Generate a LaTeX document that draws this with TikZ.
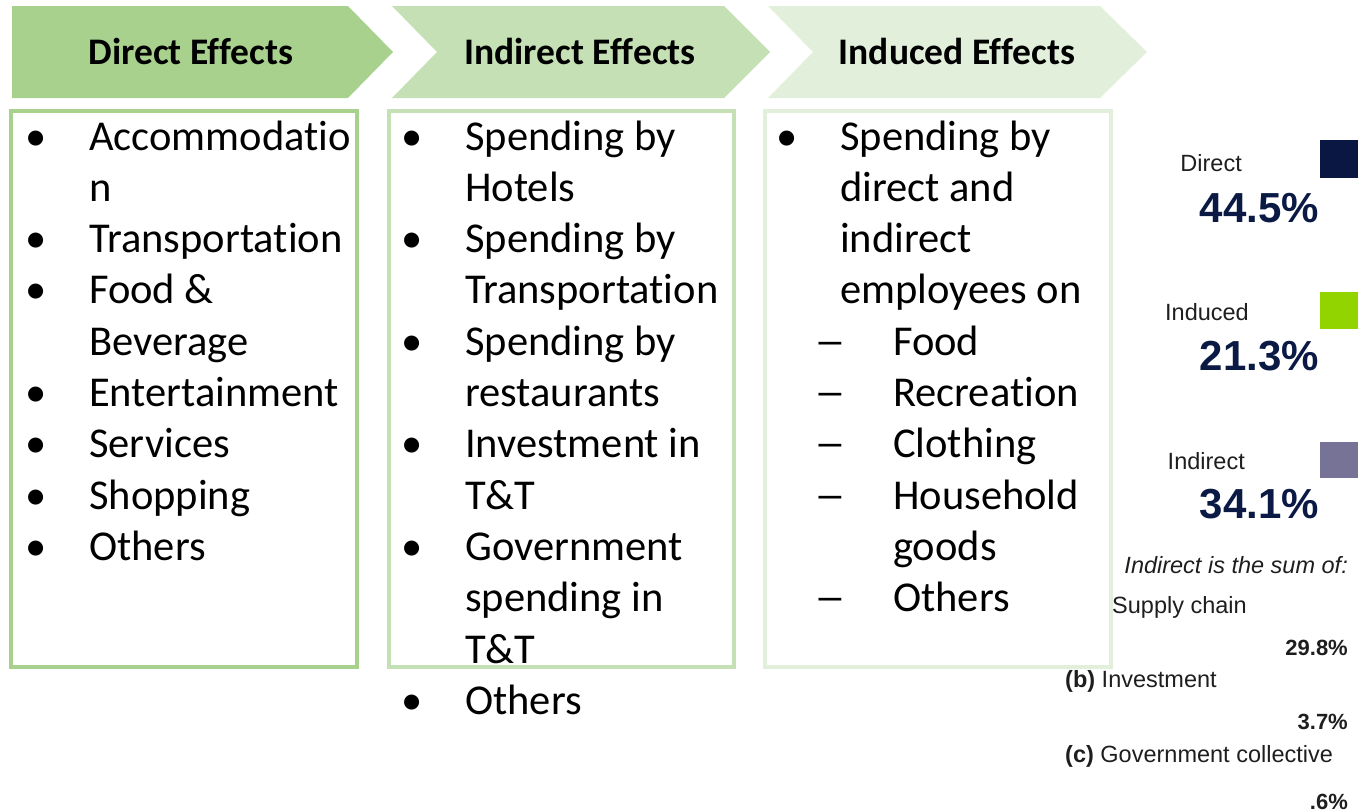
\documentclass[tikz,border=0pt]{standalone}
\usepackage{fontspec}
\setmainfont{Carlito}[Ligatures={NoCommon}]
\newfontfamily\arialf{Liberation Sans}
\definecolor{gA}{HTML}{A9D18E}
\definecolor{gB}{HTML}{C5E0B4}
\definecolor{gC}{HTML}{E2EFDA}
\definecolor{navy}{HTML}{0B1A45}
\definecolor{labc}{HTML}{1E1E1E}
\definecolor{sqDirect}{HTML}{0A1743}
\definecolor{sqInduced}{HTML}{92D400}
\definecolor{sqIndirect}{HTML}{767397}
\newcommand\bul{\makebox[0pt]{•}}
\newcommand\dsh{\hspace{-10pt}\makebox[0pt]{\scalebox{1.5}[1]{–}}\hspace{63pt}}
\begin{document}
\begin{tikzpicture}[x=1pt,y=-1pt,
  head/.style={font=\fontsize{37.5}{44}\selectfont\bfseries, inner sep=0pt, anchor=base},
  listbox/.style={line width=4pt},
  listtext/.style={font=\fontsize{42.5}{51.3}\selectfont, inner sep=0pt, anchor=base west, align=left},
  lbl/.style={font=\arialf\fontsize{23.5}{27}\selectfont, text=labc, inner sep=0pt},
  pct/.style={font=\arialf\bfseries\fontsize{42}{48}\selectfont, text=navy, inner sep=0pt, anchor=base east},
  small/.style={font=\arialf\fontsize{23.5}{27}\selectfont, text=labc, inner sep=0pt},
  smallpct/.style={font=\arialf\bfseries\fontsize{22}{26}\selectfont, text=labc, inner sep=0pt, anchor=base east}]
\useasboundingbox (0,0) rectangle (1358,811);
% chevrons
\fill[gA] (12,6) -- (348,6) -- (393,52) -- (348,98) -- (12,98) -- cycle;
\fill[gB] (392,6) -- (724,6) -- (770,52) -- (724,98) -- (392,98) -- (437,52) -- cycle;
\fill[gC] (768,6) -- (1100,6) -- (1147,52) -- (1100,98) -- (768,98) -- (813,52) -- cycle;
\node[head] (h1) at (191,64) {Direct Effects};
\node[head] (h2) at (580,64) {Indirect Effects};
\node[head] (h3) at (957,64) {Induced Effects};
% boxes
\draw[listbox, gA] (11,111) rectangle (356.5,666.5);
\draw[listbox, gB] (388.5,111) rectangle (734,666.5);
\draw[listbox, gC] (765,111) rectangle (1111,666.5);
% lists
\node[listtext] (l1) at (36,150) {\begin{tabular}[t]{@{}p{53pt}@{}l@{}}
\bul & Accommodatio\\
 & n\\
\bul & Transportation\\
\bul & Food \&\\
 & Beverage\\
\bul & Entertainment\\
\bul & Services\\
\bul & Shopping\\
\bul & Others
\end{tabular}};
\node[listtext] (l2) at (412,150) {\begin{tabular}[t]{@{}p{53pt}@{}l@{}}
\bul & Spending by\\
 & Hotels\\
\bul & Spending by\\
 & Transportation\\
\bul & Spending by\\
 & restaurants\\
\bul & Investment in\\
 & T\&T\\
\bul & Government\\
 & spending in\\
 & T\&T\\
\bul & Others
\end{tabular}};
\node[listtext] (l3) at (787,150) {\begin{tabular}[t]{@{}p{53pt}@{}l@{}}
\bul & Spending by\\
 & direct and\\
 & indirect\\
 & employees on\\
 & \dsh Food\\
 & \dsh Recreation\\
 & \dsh Clothing\\
 & \dsh Household\\
 & \hspace{53pt}goods\\
 & \dsh Others
\end{tabular}};
% right panel
\fill[sqDirect] (1320,140) rectangle (1358,178);
\fill[sqInduced] (1320,292) rectangle (1358,329);
\fill[sqIndirect] (1320,442) rectangle (1358,478);
\node[lbl, anchor=base east] (dl) at (1242,171) {Direct};
\node[pct] (dp) at (1319,222) {44.5\%};
\node[lbl, anchor=base east] (ul) at (1249,320) {Induced};
\node[pct] (up) at (1319,370) {21.3\%};
\node[lbl, anchor=base east] (il) at (1245,469) {Indirect};
\node[pct] (ip) at (1319,518) {34.1\%};
\node[small, anchor=base east, font=\arialf\itshape\fontsize{23.5}{27}\selectfont] (sum) at (1348,573) {Indirect is the sum of:};
\node[small, anchor=base west] (sa) at (1112,613) {Supply chain};
\node[smallpct] (pa) at (1348,655) {29.8\%};
\node[small, anchor=base west] (sb) at (1065,687) {\textbf{(b)} Investment};
\node[smallpct] (pb) at (1348,729) {3.7\%};
\node[small, anchor=base west] (sc) at (1065,762) {\textbf{(c)} Government collective};
\node[smallpct] (pc) at (1348,809) {.6\%};
\end{tikzpicture}
\end{document}
